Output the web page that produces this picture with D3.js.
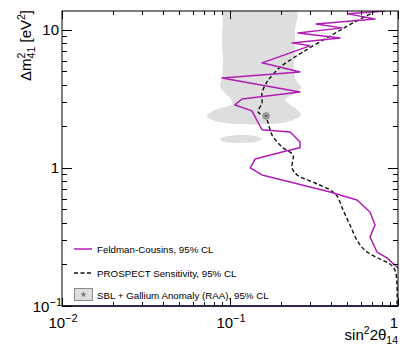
<!DOCTYPE html>
<html>
<head>
<meta charset="utf-8">
<title>PROSPECT sterile oscillation limit</title>
<script src="https://cdn.jsdelivr.net/npm/d3@7/dist/d3.min.js"></script>
<style>
  body { margin: 0; background: #fff; }
  svg text { font-family: "Liberation Sans", Arial, Helvetica, sans-serif; fill: #000; }
</style>
</head>
<body>
<script>
// ---- data ----
// Feldman-Cousins 95% CL exclusion contour
var fcSin = [0.848, 0.504, 0.730, 0.325, 0.464, 0.254, 0.452, 0.234, 0.299, 0.155,
             0.261, 0.0896, 0.261, 0.118, 0.107, 0.135, 0.155, 0.228, 0.261, 0.261,
             0.207, 0.141, 0.132, 0.155, 0.228, 0.394, 0.570, 0.681, 0.730, 0.681,
             0.750, 0.860, 1.0];
var fcDm  = [13.7, 13.06, 12.0, 11.05, 10.34, 9.51, 8.75, 8.05, 7.66, 5.77,
             4.96, 4.49, 3.55, 3.16, 2.86, 2.59, 1.89, 1.82, 1.54, 1.40,
             1.31, 1.16, 1.0, 0.890, 0.792, 0.670, 0.586, 0.480, 0.386, 0.316,
             0.246, 0.223, 0.1885];

// PROSPECT sensitivity 95% CL
var sensSin = [0.740, 0.540, 0.405, 0.272, 0.207, 0.191, 0.173, 0.166, 0.155, 0.155,
               0.147, 0.162, 0.168, 0.178, 0.207, 0.237, 0.234, 0.251, 0.321, 0.394,
               0.433, 0.471, 0.518, 0.578, 0.654, 0.781, 0.895, 0.959, 0.986, 0.986];
var sensDm  = [13.7, 11.24, 9.20, 6.93, 5.58, 5.13, 4.49, 4.20, 3.49, 2.96,
               2.54, 2.34, 2.15, 1.73, 1.40, 1.24, 1.0, 0.890, 0.778, 0.693,
               0.627, 0.496, 0.386, 0.291, 0.246, 0.219, 0.2015, 0.1823, 0.142, 0.1];

// SBL + Gallium anomaly (RAA) 95% CL allowed region
var raaSin = [0.0908, 0.247, 0.244, 0.244, 0.240, 0.247, 0.265, 0.234, 0.213, 0.244,
              0.265, 0.228, 0.173, 0.115, 0.0814, 0.0730, 0.0814, 0.103, 0.101, 0.0921,
              0.0872, 0.0896, 0.0908, 0.0896, 0.0908];
var raaDm  = [13.7, 13.7, 10.0, 7.16, 5.13, 4.34, 3.80, 3.38, 3.11, 2.72,
              2.42, 2.19, 2.08, 2.08, 2.19, 2.38, 2.63, 2.91, 3.16, 3.55,
              3.93, 4.49, 6.06, 8.46, 11.8];
var raaIslandSin = [0.0872, 0.100, 0.123, 0.147, 0.155, 0.141, 0.115, 0.0933];
var raaIslandDm  = [1.62, 1.71, 1.73, 1.68, 1.62, 1.54, 1.52, 1.54];
var bestFit = [0.164, 2.38];

var xMajor = [0.01, 0.1, 1];
var xTickLabels = [["10", "\u22122"], ["10", "\u22121"], ["1", ""]];
var yMajor = [0.1, 1, 10];
var yTickLabels = [["10", "\u22121"], ["1", ""], ["10", ""]];

var legendLabels = ["Feldman-Cousins, 95% CL",
                    "PROSPECT Sensitivity, 95% CL",
                    "SBL + Gallium Anomaly (RAA), 95% CL"];

// ---- layout ----
var width = 415, height = 349;
var padL = 62, padR = 398, padT = 11, padB = 306;
var magenta = "#b01db4";

var svg = d3.select("body").append("svg")
    .attr("width", width)
    .attr("height", height);

var x = d3.scaleLog().domain([0.01, 1]).range([padL, padR]);
var y = d3.scaleLog().domain([0.1, 13.7]).range([padB, padT]);

svg.append("clipPath").attr("id", "plotArea")
  .append("rect")
    .attr("x", padL).attr("y", padT)
    .attr("width", padR - padL).attr("height", padB - padT);

var plot = svg.append("g").attr("clip-path", "url(#plotArea)");

function zipPts(a, b) { return a.map(function(v, i) { return [v, b[i]]; }); }

var smoothClosed = d3.line()
    .x(function(d) { return x(d[0]); })
    .y(function(d) { return y(d[1]); })
    .curve(d3.curveCatmullRomClosed.alpha(0.5));

var smooth = d3.line()
    .x(function(d) { return x(d[0]); })
    .y(function(d) { return y(d[1]); })
    .curve(d3.curveCatmullRom.alpha(0.5));

var straight = d3.line()
    .x(function(d) { return x(d[0]); })
    .y(function(d) { return y(d[1]); });

// allowed region
plot.append("path")
    .attr("d", smoothClosed(zipPts(raaSin, raaDm)))
    .attr("fill", "#dedede");
plot.append("path")
    .attr("d", smoothClosed(zipPts(raaIslandSin, raaIslandDm)))
    .attr("fill", "#dedede");

// sensitivity
plot.append("path")
    .attr("d", smooth(zipPts(sensSin, sensDm)))
    .attr("fill", "none")
    .attr("stroke", "#111")
    .attr("stroke-width", 1.4)
    .attr("stroke-dasharray", "4,2.5");

// FC contour
plot.append("path")
    .attr("d", straight(zipPts(fcSin, fcDm)))
    .attr("fill", "none")
    .attr("stroke", magenta)
    .attr("stroke-width", 1.5)
    .attr("stroke-linejoin", "round");

// best fit point
plot.append("circle")
    .attr("cx", x(bestFit[0])).attr("cy", y(bestFit[1]))
    .attr("r", 3.3)
    .attr("fill", "#b8b8b8")
    .attr("stroke", "#777")
    .attr("stroke-width", 0.8);
plot.append("path")
    .attr("d", d3.symbol().type(d3.symbolStar).size(10)())
    .attr("transform", "translate(" + x(bestFit[0]) + "," + y(bestFit[1]) + ")")
    .attr("fill", "#666");

// bottom line along dm2 = 0.1
svg.append("line")
    .attr("x1", padL).attr("x2", padR)
    .attr("y1", padB).attr("y2", padB)
    .attr("stroke", "#50508f")
    .attr("stroke-width", 2);

// ---- frame and ticks ----
svg.append("rect")
    .attr("x", padL).attr("y", padT)
    .attr("width", padR - padL).attr("height", padB - padT)
    .attr("fill", "none")
    .attr("stroke", "#000")
    .attr("stroke-width", 1);

function isMajor(v) {
  var l = Math.log10(v);
  return Math.abs(l - Math.round(l)) < 1e-9;
}

var ticks = svg.append("g").attr("stroke", "#000").attr("stroke-width", 1);

x.ticks().forEach(function(v) {
  var px = Math.round(x(v)) + 0.5;
  var len = isMajor(v) ? 8 : 4;
  ticks.append("line").attr("x1", px).attr("x2", px).attr("y1", padB).attr("y2", padB - len);
  ticks.append("line").attr("x1", px).attr("x2", px).attr("y1", padT).attr("y2", padT + len);
});

y.ticks().forEach(function(v) {
  var py = Math.round(y(v)) + 0.5;
  var len = isMajor(v) ? 10 : 5;
  ticks.append("line").attr("x1", padL).attr("x2", padL + len).attr("y1", py).attr("y2", py);
  ticks.append("line").attr("x1", padR).attr("x2", padR - len).attr("y1", py).attr("y2", py);
});

function powLabel(sel, lab) {
  sel.text(lab[0]);
  if (lab[1]) {
    sel.append("tspan")
      .attr("dy", -6)
      .attr("font-size", 11)
      .text(lab[1]);
  }
}

xMajor.forEach(function(v, i) {
  var t = svg.append("text")
      .attr("x", i == 2 ? x(v) - 4 : x(v) + 1)
      .attr("y", 328)
      .attr("font-size", 15)
      .attr("text-anchor", "middle");
  powLabel(t, xTickLabels[i]);
});

yMajor.forEach(function(v, i) {
  var t = svg.append("text")
      .attr("x", yTickLabels[i][1] ? 62 : 59)
      .attr("y", y(v) + 5.5)
      .attr("font-size", 15)
      .attr("text-anchor", "end");
  powLabel(t, yTickLabels[i]);
});

// axis titles
var xt = svg.append("text")
    .attr("x", padR)
    .attr("y", 340)
    .attr("font-size", 15)
    .attr("text-anchor", "end");
xt.append("tspan").text("sin");
xt.append("tspan").attr("dy", -6).attr("font-size", 10.5).text("2");
xt.append("tspan").attr("dy", 6).text("2\u03b8");
xt.append("tspan").attr("dy", 4).attr("font-size", 10.5).text("14");

var yt = svg.append("text")
    .attr("transform", "translate(31,10) rotate(-90)")
    .attr("font-size", 15)
    .attr("text-anchor", "end");
yt.append("tspan").text("\u0394m");
yt.append("tspan").attr("dy", -6).attr("font-size", 10.5).text("2");
yt.append("tspan").attr("dy", 10).attr("dx", -5.8).attr("font-size", 10.5).text("41");
yt.append("tspan").attr("dy", -4).text(" [eV");
yt.append("tspan").attr("dy", -6).attr("font-size", 10.5).text("2");
yt.append("tspan").attr("dy", 6).text("]");

// ---- legend ----
var legend = svg.append("g");
var lx0 = 74, lx1 = 92, ltx = 97;
var rowY = [249, 273, 295];

legend.append("line")
    .attr("x1", lx0).attr("x2", lx1)
    .attr("y1", rowY[0]).attr("y2", rowY[0])
    .attr("stroke", magenta).attr("stroke-width", 1.5);
legend.append("line")
    .attr("x1", lx0).attr("x2", lx1)
    .attr("y1", rowY[1]).attr("y2", rowY[1])
    .attr("stroke", "#111").attr("stroke-width", 1.4)
    .attr("stroke-dasharray", "4,2.5");
legend.append("rect")
    .attr("x", lx0 + 0.5).attr("y", rowY[2] - 6.5)
    .attr("width", lx1 - lx0).attr("height", 12)
    .attr("fill", "#dedede")
    .attr("stroke", "#8a8a8a").attr("stroke-width", 1);
legend.append("path")
    .attr("d", d3.symbol().type(d3.symbolStar).size(12)())
    .attr("transform", "translate(" + ((lx0 + lx1) / 2 + 0.5) + "," + (rowY[2] - 0.5) + ")")
    .attr("fill", "#777");

legend.selectAll("text.lab")
    .data(legendLabels)
    .enter()
    .append("text")
    .attr("class", "lab")
    .attr("x", ltx)
    .attr("y", function(d, i) { return rowY[i] + 3.5; })
    .attr("font-size", 9.75)
    .attr("fill", "#222")
    .text(function(d) { return d; });
</script>
</body>
</html>
